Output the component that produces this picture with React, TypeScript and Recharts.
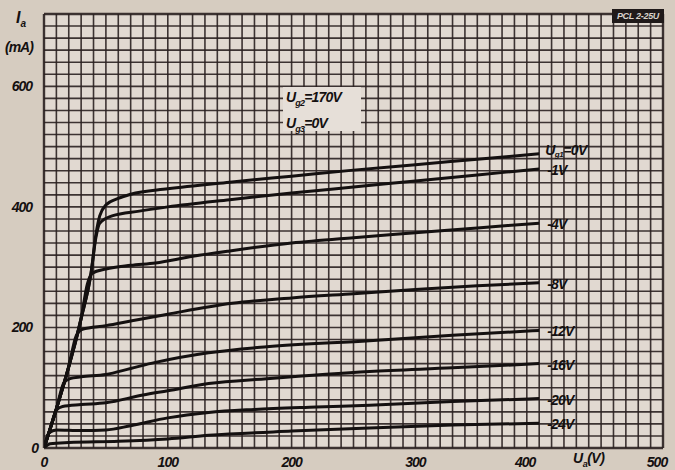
import React from "react";
import { LineChart, Line, XAxis, YAxis, ReferenceLine, ReferenceArea } from "recharts";

type Pt = [number, number];

// anode voltage (V) / anode current (mA) pairs
const curveUg0: Pt[] = [[0, 0], [10, 65], [20, 135], [30, 215], [38, 290], [42, 355], [45, 385], [50, 403], [60, 414], [70, 421], [100, 430], [150, 441], [200, 451], [250, 461], [300, 470], [350, 479], [400, 488]];
const curveUg1: Pt[] = [[0, 0], [10, 65], [20, 135], [30, 215], [38, 290], [42, 350], [45, 373], [55, 385], [77, 393], [100, 400], [150, 412], [200, 423], [250, 433], [300, 443], [350, 453], [400, 463]];
const curveUg4: Pt[] = [[0, 0], [10, 65], [20, 135], [30, 215], [35, 272], [39, 290], [50, 297], [70, 303], [90, 307], [120, 318], [150, 327], [200, 340], [250, 349], [300, 357], [350, 365], [400, 373]];
const curveUg8: Pt[] = [[0, 0], [10, 65], [20, 135], [26, 186], [31, 197], [50, 203], [71, 211], [100, 222], [152, 240], [200, 249], [250, 256], [300, 263], [350, 269], [400, 274]];
const curveUg12: Pt[] = [[0, 0], [10, 65], [16, 108], [21, 115], [30, 118], [50, 122], [70, 132], [90, 142], [133, 158], [180, 168], [263, 178], [330, 187], [400, 195]];
const curveUg16: Pt[] = [[0, 0], [5, 32], [10, 63], [15, 69], [30, 72], [50, 75], [80, 88], [100, 95], [133, 107], [180, 115], [263, 127], [330, 133], [400, 140]];
const curveUg20: Pt[] = [[0, 0], [4, 25], [10, 30], [30, 29], [50, 30], [70, 37], [100, 50], [133, 59], [170, 64], [220, 68], [263, 71], [330, 77], [400, 82]];
const curveUg24: Pt[] = [[0, 0], [5, 7], [20, 9], [60, 11], [100, 15], [133, 21], [200, 28], [263, 33], [330, 38], [400, 41]];

const curveLabels = ["=0V", "-1V", "-4V", "-8V", "-12V", "-16V", "-20V", "-24V"];
const curveData = [curveUg0, curveUg1, curveUg4, curveUg8, curveUg12, curveUg16, curveUg20, curveUg24];

const xTicks = [0, 100, 200, 300, 400, 500];
const yTicks = [0, 200, 400, 600];
const xGrid = Array.from({ length: 51 }, (_, i) => i * 10);
const yGrid = Array.from({ length: 37 }, (_, i) => i * 20);

const INK = "#141010";
const GRID = "#2a2020";
const FONT = "'Liberation Sans', Arial, sans-serif";

const txt: React.CSSProperties = {
  fontFamily: FONT,
  fontStyle: "italic",
  fontWeight: 700,
  fill: INK,
  color: INK,
};

function XTick(props: any) {
  const { x, y, payload } = props;
  const dx = payload.value === 400 ? -14 : payload.value === 500 ? -6 : 0;
  return (
    <text x={x + dx} y={y + 11} textAnchor="middle" fontSize={14} style={txt} letterSpacing={-1}>
      {payload.value}
    </text>
  );
}

function YTick(props: any) {
  const { x, y, payload } = props;
  return (
    <text x={x + (payload.value === 0 ? 2 : -4)} y={y + 5} textAnchor="end" fontSize={14} style={txt} letterSpacing={-1}>
      {payload.value}
    </text>
  );
}

function endLabel(text: string, last: number, first: boolean) {
  return (p: any) => {
    if (p.index !== last) return <g />;
    if (first) {
      return (
        <text x={p.x + 6} y={p.y + 1} fontSize={14} style={txt} letterSpacing={-0.5}>
          U<tspan fontSize={8} dy={2}>g1</tspan>
          <tspan dy={-2}>{text}</tspan>
        </text>
      );
    }
    return (
      <text x={p.x + 8} y={p.y + 6} fontSize={14} style={txt} letterSpacing={-0.8}>
        {text}
      </text>
    );
  };
}

const note: React.CSSProperties = {
  position: "absolute",
  fontFamily: FONT,
  fontStyle: "italic",
  fontWeight: 700,
  color: INK,
};

export default function App() {
  return (
    <div style={{ position: "fixed", left: 0, top: 0, width: 675, height: 470, background: "#d6ccc0", overflow: "hidden" }}>
      <LineChart width={675} height={470} margin={{ top: 14, right: 12, bottom: 0, left: 0 }}>
        <XAxis
          type="number"
          dataKey="v"
          domain={[0, 500]}
          ticks={xTicks}
          height={22}
          axisLine={false}
          tickLine={false}
          tick={<XTick />}
          allowDataOverflow
        />
        <YAxis
          type="number"
          dataKey="i"
          domain={[0, 720]}
          ticks={yTicks}
          width={44}
          axisLine={false}
          tickLine={false}
          tick={<YTick />}
          allowDataOverflow
        />
        <ReferenceArea x1={0} x2={500} y1={0} y2={720} fill="#e1d9d1" fillOpacity={1} stroke="none" />
        {xGrid.map((v) => (
          <ReferenceLine key={`gx${v}`} x={v} stroke={GRID} strokeWidth={v === 0 || v === 500 ? 2.4 : 1.6} strokeOpacity={0.9} />
        ))}
        {yGrid.map((v) => (
          <ReferenceLine key={`gy${v}`} y={v} stroke={GRID} strokeWidth={v === 0 || v === 720 ? 2.4 : 1.6} strokeOpacity={0.9} />
        ))}
        {curveData.map((pts, k) => (
          <Line
            key={curveLabels[k]}
            data={pts.map(([v, i]) => ({ v, i }))}
            dataKey="i"
            type="monotone"
            stroke={INK}
            strokeWidth={3}
            dot={false}
            isAnimationActive={false}
            label={endLabel(curveLabels[k], pts.length - 1, k === 0)}
          />
        ))}
      </LineChart>

      {/* axis titles and notes */}
      <div style={{ ...note, left: 16, top: 9, fontSize: 16 }}>
        I<sub style={{ fontSize: 10 }}>a</sub>
      </div>
      <div style={{ ...note, left: 5, top: 39, fontSize: 14, letterSpacing: -1 }}>(mA)</div>
      <div style={{ ...note, left: 573, top: 450, fontSize: 14, letterSpacing: -0.5 }}>
        U<sub style={{ fontSize: 9 }}>a</sub>(V)
      </div>
      <div
        style={{
          ...note,
          left: 283,
          top: 87,
          width: 78,
          height: 44,
          background: "#e6dfd8",
          fontSize: 14,
          lineHeight: "20px",
          letterSpacing: -0.8,
          paddingLeft: 3,
          boxSizing: "border-box",
        }}
      >
        <div>U<sub style={{ fontSize: 9 }}>g2</sub>=170V</div>
        <div>U<sub style={{ fontSize: 9 }}>g3</sub>=0V</div>
      </div>
      <div
        style={{
          ...note,
          left: 612,
          top: 9,
          width: 52,
          height: 14,
          background: "#201a1a",
          color: "#d9d2ca",
          fontSize: 9,
          lineHeight: "14px",
          textAlign: "center",
          letterSpacing: -0.3,
        }}
      >
        PCL 2-25U
      </div>
    </div>
  );
}
